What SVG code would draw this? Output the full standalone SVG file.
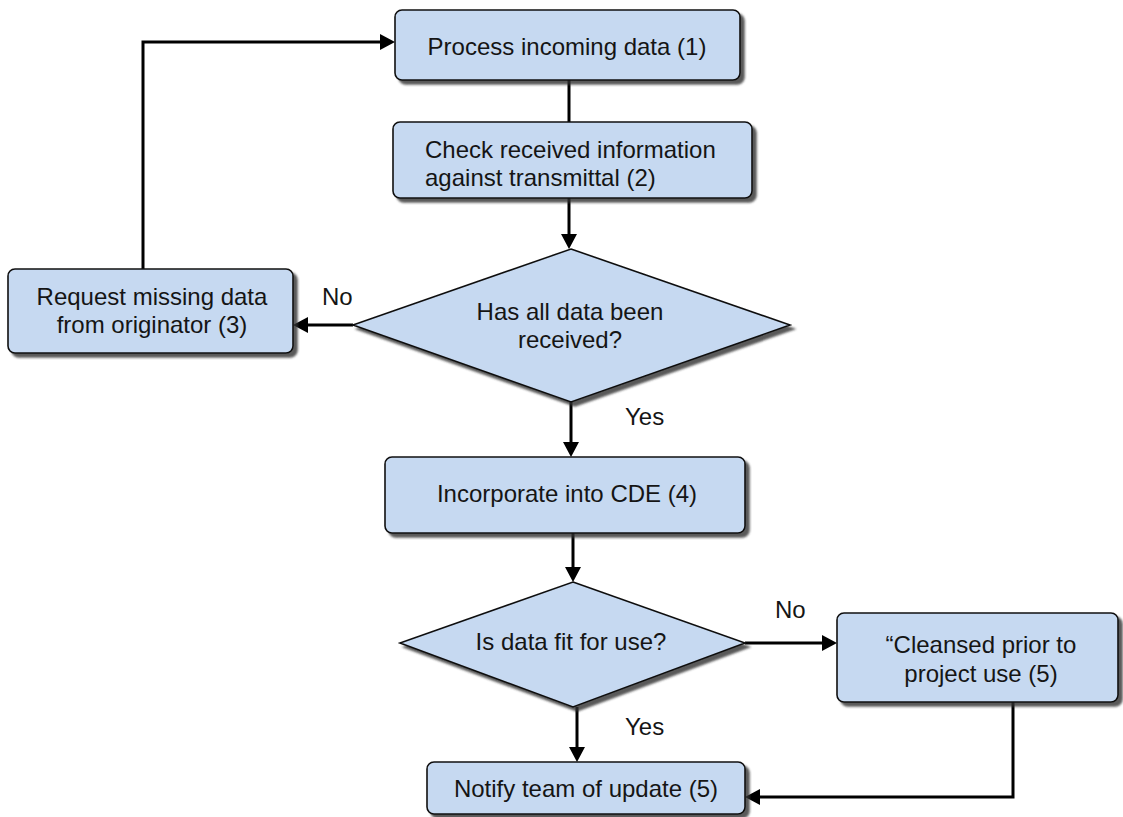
<svg xmlns="http://www.w3.org/2000/svg" width="1123" height="817" viewBox="0 0 1123 817">
<style>
.box{fill:#c6d9f1;stroke:#111;stroke-width:1.6;filter:url(#sh)}
.t{font-family:"Liberation Sans",Arial,sans-serif;font-size:24px;fill:#151515}
.c{text-anchor:middle}
.ln{fill:none;stroke:#000;stroke-width:3}
.ar{marker-end:url(#ah)}
</style>
<defs>
<filter id="sh" x="-5%" y="-5%" width="115%" height="125%">
<feDropShadow dx="4" dy="4" stdDeviation="1.3" flood-color="#333" flood-opacity="0.8"/>
</filter>
<marker id="ah" markerUnits="userSpaceOnUse" markerWidth="18" markerHeight="18" refX="5" refY="8" orient="auto">
<path d="M0,0 L15,8 L0,16 z" fill="#000"/>
</marker>
</defs>
<rect width="1123" height="817" fill="#fff"/>
<g id="connectors">
<path class="ln" d="M569,80 V122"/>
<path class="ln ar" d="M569,198 V239"/>
<path class="ln ar" d="M353,325 H303"/>
<path class="ln ar" d="M143,269 V42 H385"/>
<path class="ln ar" d="M571,402 V447"/>
<path class="ln ar" d="M573,533 V572"/>
<path class="ln ar" d="M745,643 H827"/>
<path class="ln ar" d="M577,707 V752"/>
<path class="ln ar" d="M1013,702 V797 H755"/>
<text class="t" x="322" y="305">No</text>
<text class="t" x="625" y="425">Yes</text>
<text class="t" x="775" y="618">No</text>
<text class="t" x="625" y="735">Yes</text>
</g>
<g id="n1">
<rect class="box" x="395" y="10" width="345" height="70" rx="7"/>
<text class="t c" x="567" y="55">Process incoming data (1)</text>
</g>
<g id="n2">
<rect class="box" x="393" y="122" width="359" height="76" rx="7"/>
<text class="t" x="425" y="158">Check received information</text>
<text class="t" x="425" y="186">against transmittal (2)</text>
</g>
<g id="d1">
<polygon class="box" points="571,249 790,325 571,402 353,325"/>
<text class="t c" x="570" y="320">Has all data been</text>
<text class="t c" x="570" y="348">received?</text>
</g>
<g id="n3">
<rect class="box" x="8" y="269" width="285" height="84" rx="7"/>
<text class="t c" x="152" y="305">Request missing data</text>
<text class="t c" x="152" y="333">from originator (3)</text>
</g>
<g id="n4">
<rect class="box" x="385" y="457" width="360" height="76" rx="7"/>
<text class="t c" x="567" y="502">Incorporate into CDE (4)</text>
</g>
<g id="d2">
<polygon class="box" points="573,582 745,643 573,707 400,643"/>
<text class="t c" x="571" y="650">Is data fit for use?</text>
</g>
<g id="n5">
<rect class="box" x="837" y="613" width="281" height="89" rx="7"/>
<text class="t c" x="981" y="653">“Cleansed prior to</text>
<text class="t c" x="981" y="682">project use (5)</text>
</g>
<g id="n6">
<rect class="box" x="427" y="762" width="318" height="52" rx="7"/>
<text class="t c" x="586" y="797">Notify team of update (5)</text>
</g>
</svg>
